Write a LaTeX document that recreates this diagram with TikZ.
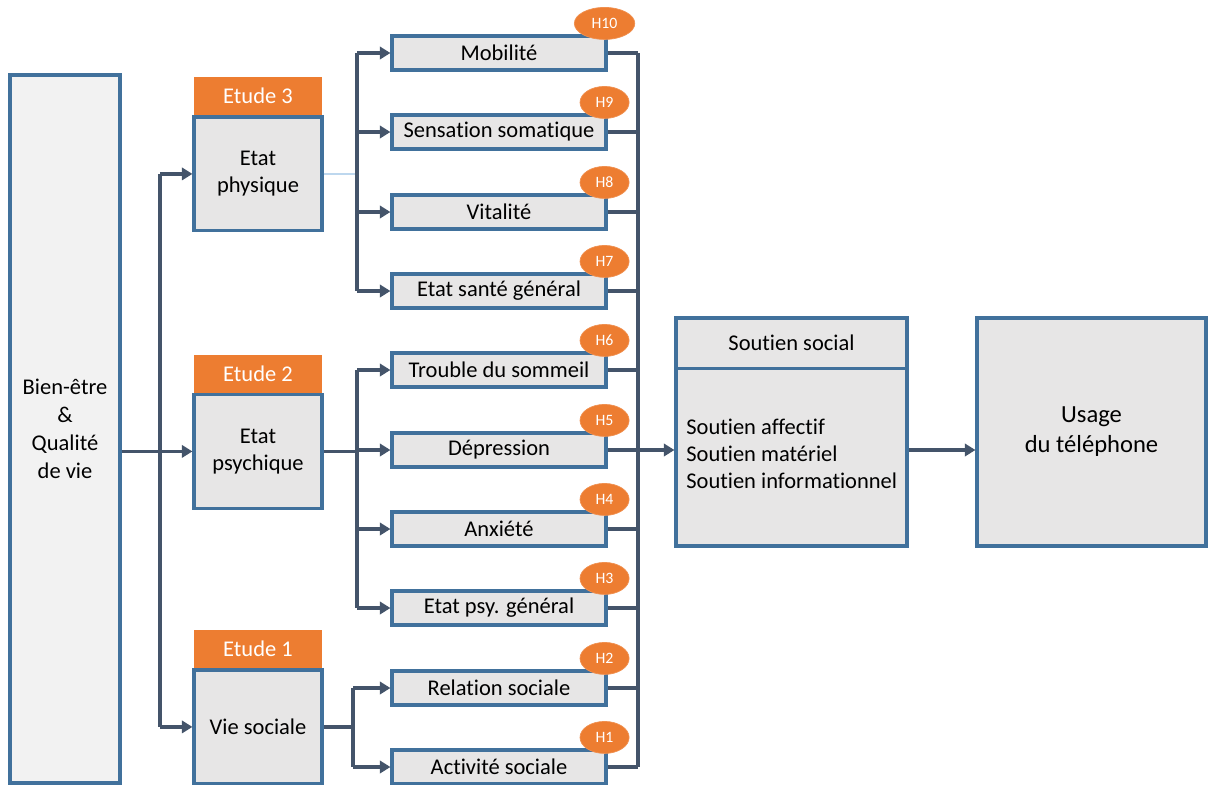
\documentclass[tikz,border=0pt]{standalone}
\usepackage{fontspec}
\setmainfont[Ligatures=NoCommon]{Carlito}
\usetikzlibrary{positioning,shapes.geometric,arrows.meta}
\definecolor{boxblue}{RGB}{65,113,156}
\definecolor{linegray}{RGB}{68,84,106}
\definecolor{etorange}{RGB}{237,125,49}
\definecolor{boxgray}{RGB}{231,230,230}
\definecolor{bigfill}{RGB}{242,242,242}
\definecolor{thinblue}{RGB}{189,215,238}

\begin{document}
\begin{tikzpicture}[x=0.02cm,y=-0.02cm,
 every node/.style={font=\fontsize{12.8}{15.5}\selectfont},
 box/.style={draw=boxblue, line width=1.8pt, fill=boxgray, align=center, inner sep=0pt},
 var/.style={box, minimum width=4.28cm, minimum height=0.68cm},
 study/.style={box, minimum width=2.56cm, minimum height=2.28cm},
 etude/.style={fill=etorange, text=white, minimum width=2.56cm, minimum height=0.76cm, inner sep=0pt},
 hyp/.style={ellipse, fill=etorange, draw=etorange!85!white, thin, text=white, font=\fontsize{9}{10}\selectfont, inner xsep=4.8pt, inner ysep=0pt, minimum width=0.98cm, minimum height=0.64cm},
 conn/.style={draw=linegray, line width=2pt},
 arr/.style={conn, -{Triangle[length=6pt,width=7pt]}}]
 \useasboundingbox (0,0) rectangle (1208,785);

 \node[box, fill=bigfill, minimum width=2.2cm, minimum height=14.16cm, font=\fontsize{12.8}{16}\selectfont] (big) at (65,429) {Bien-être\\\&\\Qualité\\de vie};

 \node[etude] (e3) at (258,96) {Etude 3};
 \node[study, below=0pt of e3] (phys) {Etat\\physique};
 \node[etude] (e2) at (258,373.5) {Etude 2};
 \node[study, below=0pt of e2] (psy) {Etat\\psychique};
 \node[etude] (e1) at (258,649) {Etude 1};
 \node[study, below=0pt of e1] (soc) {Vie sociale};

 \node[var] (mob) at (499,53) {Mobilité};
 \node[var] (som) at (499,132) {Sensation somatique};
 \node[var] (vit) at (499,212) {Vitalité};
 \node[var] (ges) at (499,291) {Etat santé général};
 \node[var] (tro) at (499,370) {Trouble du sommeil};
 \node[var] (dep) at (499,450) {Dépression};
 \node[var] (anx) at (499,529) {Anxiété};
 \node[var] (eps) at (499,608) {Etat psy. général};
 \node[var] (rel) at (499,688) {Relation sociale};
 \node[var] (act) at (499,767) {Activité sociale};

 \foreach \n/\h in {mob/H10,som/H9,vit/H8,ges/H7,tro/H6,dep/H5,anx/H4,eps/H3,rel/H2,act/H1}
  \node[hyp] (b-\n) at ([shift={(-3,-11)}]\n.north east) {\h};

 \node[box, minimum width=4.62cm, minimum height=4.56cm] (ss) at (791.5,432) {};
 \draw[boxblue, line width=1.8pt] ([yshift=-1.04cm]ss.north west) -- ([yshift=-1.04cm]ss.north east);
 \node (sst) at ([yshift=-0.52cm]ss.north) {Soutien social};
 \node[align=left, anchor=west, inner sep=0pt] (ssb) at (686,454) {Soutien affectif\\Soutien matériel\\Soutien informationnel};

 \node[box, minimum width=4.58cm, minimum height=4.56cm, font=\fontsize{14}{17}\selectfont] (us) at (1091.5,432) {Usage\\du téléphone};

 \coordinate (lt) at (160,450);
 \coordinate (pb) at (357,0);
 \coordinate (sb) at (353,0);
 \coordinate (rb) at (638,0);

 \draw[arr] (big.east |- psy.west) -- (psy.west);
 \draw[conn] (lt |- phys.west) -- (lt |- soc.west);
 \draw[arr] (lt |- phys.west) -- (phys.west);
 \draw[arr] (lt |- soc.west) -- (soc.west);

 \draw[thinblue, line width=0.8pt] (phys.east) -- (pb |- phys.east);
 \draw[conn] (pb |- mob.west) -- (pb |- ges.west);
 \foreach \n in {mob,som,vit,ges}
  \draw[arr] (pb |- \n.west) -- (\n.west);

 \draw[conn] (psy.east) -- (pb |- psy.east);
 \draw[conn] (pb |- tro.west) -- (pb |- eps.west);
 \foreach \n in {tro,dep,anx,eps}
  \draw[arr] (pb |- \n.west) -- (\n.west);

 \draw[conn] (soc.east) -- (sb |- soc.east);
 \draw[conn] (sb |- rel.west) -- (sb |- act.west);
 \foreach \n in {rel,act}
  \draw[arr] (sb |- \n.west) -- (\n.west);

 \foreach \n in {mob,som,vit,ges,tro,anx,eps,rel,act}
  \draw[conn] (\n.east) -- (rb |- \n.east);
 \draw[conn] (rb |- mob.east) -- (rb |- act.east);
 \draw[arr] (dep.east) -- (ss.west |- dep.east);
 \draw[arr] (ss.east |- dep.east) -- (us.west |- dep.east);
\end{tikzpicture}
\end{document}
